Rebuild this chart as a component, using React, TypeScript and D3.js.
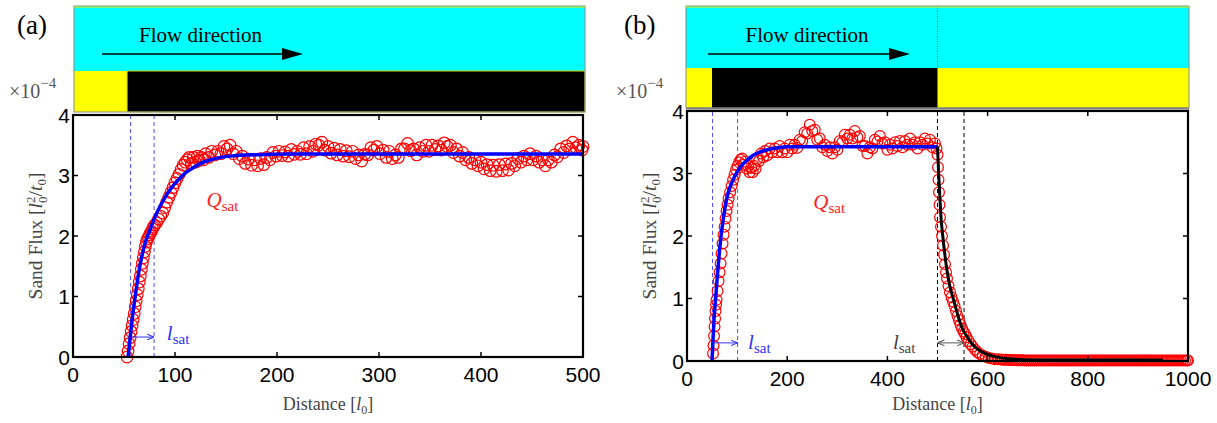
import React from 'react';
import * as d3 from 'd3';

// ---------- data ----------
const X_TICKS_A = [0, 100, 200, 300, 400, 500];
const X_TICKS_B = [0, 200, 400, 600, 800, 1000];
const Y_TICKS = [0, 1, 2, 3, 4];

// panel (a): sand flux (x1e-4) measured, red circles
const A_RED: [number, number][] = [
  [53,0.0],[54,0.1],[55,0.22],[56,0.32],[57,0.42],[58,0.52],[59,0.62],[60,0.72],[61,0.83],[62,0.93],
  [63,1.03],[64,1.13],[65,1.24],[66,1.34],[67,1.45],[68,1.55],[69,1.64],[70,1.74],[71,1.83],[72,1.9],
  [73,1.95],[74,1.98],[75,2.02],[76,2.05],[77,2.08],[78,2.12],[79,2.15],[80,2.18],[82,2.22],[84,2.28],
  [86,2.33],[88,2.38],[90,2.47],[92,2.56],[94,2.64],[96,2.72],[98,2.8],[100,2.88],[102,2.95],[104,3.02],
  [106,3.1],[108,3.17],[110,3.22],[112,3.26],
  [114,3.3],[116,3.2],[118,3.3],[120,3.22],[122,3.32],[124,3.25],[126,3.3],[128,3.26],[130,3.36],[133,3.3],
  [136,3.4],[139,3.34],[142,3.4],[145,3.36],[148,3.48],[151,3.44],[154,3.5],[157,3.36],[160,3.4],[163,3.28],
  [166,3.32],[169,3.2],[172,3.27],[175,3.17],[178,3.26],[181,3.16],[184,3.28],[187,3.18],[190,3.3],[193,3.26],
  [196,3.38],[199,3.32],[202,3.4],[205,3.33],[208,3.39],[211,3.32],[214,3.43],[217,3.35],[220,3.4],[223,3.35],
  [226,3.46],[229,3.36],[232,3.48],[235,3.4],[238,3.52],[241,3.5],[244,3.55],[247,3.42],[250,3.48],[253,3.37],
  [256,3.45],[259,3.34],[262,3.43],[265,3.32],[268,3.41],[271,3.31],[274,3.4],[277,3.28],[280,3.34],[283,3.24],
  [286,3.35],[289,3.34],[292,3.46],[295,3.42],[298,3.48],[301,3.36],[304,3.42],[307,3.3],[310,3.4],[313,3.28],
  [316,3.34],[319,3.3],[322,3.44],[325,3.44],[328,3.53],[331,3.41],[334,3.44],[337,3.34],[340,3.46],[343,3.4],
  [346,3.5],[349,3.4],[352,3.5],[355,3.43],[358,3.49],[361,3.42],[364,3.54],[367,3.48],[370,3.5],[373,3.38],
  [376,3.44],[379,3.32],[382,3.38],[385,3.26],[388,3.3],[391,3.2],[394,3.26],[397,3.16],[400,3.22],[403,3.11],
  [406,3.18],[409,3.08],[412,3.17],[415,3.07],[418,3.18],[421,3.08],[424,3.19],[427,3.09],[430,3.2],[433,3.16],
  [436,3.28],[439,3.22],[442,3.32],[445,3.26],[448,3.36],[451,3.26],[454,3.32],[457,3.22],[460,3.26],[463,3.16],
  [466,3.26],[469,3.22],[472,3.34],[475,3.31],[478,3.44],[481,3.38],[484,3.49],[487,3.44],[490,3.55],[493,3.46],
  [496,3.5],[499,3.42],[500,3.48],
];
// panel (a): fitted saturation curve, blue
const A_FIT: [number, number][] = [
  [54,0],[56,0.32],[58,0.62],[60,0.88],[62,1.12],[65,1.45],[68,1.7],[71,1.9],[75,2.08],[80,2.3],
  [85,2.48],[90,2.63],[95,2.76],[100,2.87],[105,2.96],[110,3.04],[117,3.12],[125,3.2],[135,3.26],[145,3.3],
  [160,3.33],[180,3.345],[210,3.355],[500,3.355],
];
const A_LSAT = [56.5, 79.5];
const A_BED_START = 53;

// panel (b)
const B_RED: [number, number][] = [
  [52,0.12],[53,0.25],[54,0.4],[55,0.55],[56,0.68],[57,0.8],[58,0.9],[59,0.98],[61,1.12],[63,1.28],
  [65,1.42],[67,1.56],[69,1.72],[71,1.88],[73,2.02],[75,2.15],[77,2.28],[79,2.4],[81,2.5],[83,2.6],
  [86,2.7],[89,2.8],[92,2.9],[95,2.98],[98,3.06],[101,3.12],[104,3.18],[107,3.22],
  [110,3.24],[113,3.14],[116,3.19],[119,3.08],[122,3.12],[125,3.02],[128,3.09],[131,3.02],[134,3.12],[137,3.08],
  [140,3.22],[144,3.2],[148,3.32],[152,3.26],[156,3.36],[160,3.29],[165,3.4],[170,3.34],[175,3.4],[180,3.34],
  [185,3.44],[190,3.34],[195,3.4],[200,3.34],[205,3.46],[210,3.4],[215,3.46],[220,3.41],[225,3.54],[230,3.52],
  [235,3.66],[240,3.64],[245,3.78],[250,3.68],[255,3.7],[260,3.54],[265,3.56],[270,3.42],[275,3.46],[280,3.36],
  [285,3.42],[290,3.32],[295,3.42],[300,3.38],[305,3.52],[310,3.5],[315,3.62],[320,3.56],[325,3.62],[330,3.56],
  [335,3.68],[340,3.58],[345,3.6],[350,3.44],[355,3.44],[360,3.32],[365,3.42],[370,3.4],[375,3.54],[380,3.51],
  [385,3.6],[390,3.48],[395,3.5],[400,3.38],[405,3.46],[410,3.4],[415,3.5],[420,3.44],[425,3.52],[430,3.42],
  [435,3.52],[440,3.46],[445,3.56],[450,3.46],[455,3.5],[460,3.4],[465,3.5],[470,3.46],[475,3.56],[480,3.48],
  [485,3.54],[490,3.42],[495,3.48],[498,3.4],
  [500,3.3],[501,3.1],[502,2.9],[503,2.7],[504,2.5],[505,2.3],[507,2.15],[509,2.0],[511,1.85],
  [513,1.7],[515,1.55],[517,1.42],[519,1.32],[522,1.2],[525,1.1],[528,1.02],[531,0.95],[534,0.88],[537,0.8],
  [540,0.72],[543,0.65],[546,0.58],[549,0.52],[552,0.47],[555,0.43],[558,0.38],[562,0.32],[566,0.27],[570,0.23],
  [575,0.18],[580,0.14],[585,0.11],[590,0.09],[596,0.07],[602,0.05],[608,0.04],[614,0.03],[620,0.03],
  [626,0.025],[630,0.022],[634,0.02],[638,0.02],[642,0.018],[646,0.016],[650,0.015],[654,0.014],[658,0.013],[662,0.012],
  [666,0.012],[670,0.011],[674,0.01],[678,0.01],[682,0.01],[686,0.01],[690,0.01],[694,0.01],[698,0.01],[702,0.01],
  [706,0.01],[710,0.01],[714,0.01],[718,0.01],[722,0.01],[726,0.01],[730,0.01],[734,0.01],[738,0.01],[742,0.01],
  [746,0.01],[750,0.01],[754,0.01],[758,0.01],[762,0.01],[766,0.01],[770,0.01],[774,0.01],[778,0.01],[782,0.01],
  [786,0.01],[790,0.01],[794,0.01],[798,0.01],[802,0.01],[806,0.01],[810,0.01],[814,0.01],[818,0.01],[822,0.01],
  [826,0.01],[830,0.01],[834,0.01],[838,0.01],[842,0.01],[846,0.01],[850,0.01],[854,0.01],[858,0.01],[862,0.01],
  [866,0.01],[870,0.01],[874,0.01],[878,0.01],[882,0.01],[886,0.01],[890,0.01],[894,0.01],[898,0.01],[902,0.01],
  [906,0.01],[910,0.01],[914,0.01],[918,0.01],[922,0.01],[926,0.01],[930,0.01],[934,0.01],[938,0.01],[942,0.01],
  [946,0.01],[950,0.01],[954,0.01],[958,0.01],[962,0.01],[966,0.01],[970,0.01],[974,0.01],[978,0.01],[982,0.01],
  [986,0.01],[990,0.01],[994,0.01],[998,0.01],[1000,0.01],
];
const B_FIT_UP: [number, number][] = [
  [50,0],[52,0.36],[54,0.68],[57,0.98],[60,1.3],[64,1.68],[68,2.0],[73,2.3],[78,2.55],[85,2.76],
  [92,2.9],[99,3.01],[108,3.12],[118,3.2],[130,3.28],[145,3.34],[160,3.38],[180,3.41],[200,3.43],[500,3.43],
];
const B_FIT_DOWN: [number, number][] = [
  [500,3.43],[502,3.05],[505,2.58],[507,2.3],[510,2.04],[514,1.75],[518,1.5],[524,1.22],[532,0.98],[540,0.75],
  [548,0.55],[558,0.4],[568,0.28],[580,0.19],[598,0.11],[615,0.07],[638,0.04],[670,0.022],[720,0.015],[950,0.015],
];
const B_LSAT_UP = [51, 101];
const B_LSAT_DOWN = [500, 553];
const B_BED = [50, 500];

const SERIF = '"Liberation Serif", "Times New Roman", serif';
const SANS = '"Liberation Sans", Arial, Helvetica, sans-serif';

type Sc = d3.ScaleLinear<number, number>;
type PanelProps = {
  tag: string;
  xDomain: [number, number];
  xRange: [number, number];
  yRange: [number, number];
  xTicks: number[];
  red: [number, number][];
  redR: number;
  header: { left: number; right: number; top: number; mid: number; bottom: number };
  under: (x: Sc, y: Sc) => React.ReactNode;
  over: (x: Sc, y: Sc) => React.ReactNode;
  headerBand: (x: Sc) => React.ReactNode;
  tagX: number;
  arrow: [number, number];
};

function Panel(p: PanelProps) {
  const x = d3.scaleLinear().domain(p.xDomain).range(p.xRange);
  const y = d3.scaleLinear().domain([0, 4]).range(p.yRange);
  const [x0, x1] = p.xRange;
  const [yb, yt] = p.yRange;
  const h = p.header;
  const tick = 5;
  return (
    <g>
      {/* header */}
      <rect x={h.left} y={h.top} width={h.right - h.left} height={h.mid - h.top} fill="#00ffff" />
      {p.headerBand(x)}
      <rect x={h.left} y={h.top} width={h.right - h.left} height={h.bottom - h.top} fill="none" stroke="#888" strokeWidth={1} />
      <line x1={h.left} x2={h.right} y1={h.top + 1} y2={h.top + 1} stroke="#e8e800" strokeWidth={1} />
      <text x={p.tagX} y={34} fontFamily={SERIF} fontSize={27} fill="#000">{p.tag}</text>
      <text x={(p.arrow[0] + p.arrow[1]) / 2 - 2} y={41.5} textAnchor="middle" fontFamily={SERIF} fontSize={21} fill="#000">Flow direction</text>
      <line x1={p.arrow[0]} x2={p.arrow[1] - 18} y1={54} y2={54} stroke="#000" strokeWidth={1.6} />
      <path d={`M${p.arrow[1]},54 L${p.arrow[1] - 21},48 L${p.arrow[1] - 21},60 Z`} fill="#000" />
      <text x={p.tagX - 8} y={98} fontFamily={SERIF} fontSize={20} fill="#555">
        ×10<tspan dy={-10} fontSize={15}>−4</tspan>
      </text>

      {/* plot contents */}
      <defs>
        <clipPath id={`clip-${p.tag}`}>
          <rect x={x0 - 8} y={yt - 8} width={x1 - x0 + 20} height={yb - yt + 20} />
        </clipPath>
      </defs>
      {p.under(x, y)}
      <g clipPath={`url(#clip-${p.tag})`}>
        {p.red.map((d, i) => (
          <circle key={i} cx={x(d[0])} cy={y(d[1])} r={p.redR} fill="none" stroke="#ff0000" strokeWidth={1.2} />
        ))}
      </g>
      {p.over(x, y)}

      {/* frame and ticks */}
      <rect x={x0} y={yt} width={x1 - x0} height={yb - yt} fill="none" stroke="#000" strokeWidth={2.2} />
      {p.xTicks.map((t) => (
        <g key={`xt${t}`}>
          <line x1={x(t)} x2={x(t)} y1={yb} y2={yb - tick} stroke="#000" strokeWidth={1.5} />
          <line x1={x(t)} x2={x(t)} y1={yt} y2={yt + tick} stroke="#000" strokeWidth={1.5} />
          <text x={x(t)} y={yb + 25} textAnchor="middle" fontFamily={SANS} fontSize={21} fill="#000">{t}</text>
        </g>
      ))}
      {Y_TICKS.map((t) => (
        <g key={`yt${t}`}>
          <line x1={x0} x2={x0 + tick} y1={y(t)} y2={y(t)} stroke="#000" strokeWidth={1.5} />
          <line x1={x1} x2={x1 - tick} y1={y(t)} y2={y(t)} stroke="#000" strokeWidth={1.5} />
          <text x={x0 - 3} y={y(t) + 7.5} textAnchor="end" fontFamily={SANS} fontSize={21} fill="#000">{t}</text>
        </g>
      ))}
      {/* axis labels */}
      <text x={(x0 + x1) / 2} y={410} textAnchor="middle" fontFamily={SERIF} fontSize={18} fill="#444">
        Distance [<tspan fontStyle="italic">l</tspan><tspan dy={4} fontSize={12}>0</tspan><tspan dy={-4}>]</tspan>
      </text>
      <text transform={`translate(${x0 - 31},${(yt + yb) / 2}) rotate(-90)`} textAnchor="middle" fontFamily={SERIF} fontSize={19.5} fill="#444">
        Sand Flux [<tspan fontStyle="italic">l</tspan><tspan dy={-7} fontSize={13}>2</tspan><tspan dx={-6.5} dy={12} fontSize={13}>0</tspan><tspan dy={-5}>/</tspan><tspan fontStyle="italic">t</tspan><tspan dy={4} fontSize={13}>0</tspan><tspan dy={-4}>]</tspan>
      </text>
    </g>
  );
}

function Sub({ x, y, main, sub, color }: { x: number; y: number; main: string; sub: string; color: string }) {
  return (
    <text x={x} y={y} fontFamily={SERIF} fontSize={21} fill={color}>
      <tspan fontStyle="italic">{main}</tspan>
      <tspan dy={4} fontSize={15}>{sub}</tspan>
    </text>
  );
}

const mkLine = (x: Sc, y: Sc) =>
  d3.line<[number, number]>().x((d) => x(d[0])).y((d) => y(d[1])).curve(d3.curveMonotoneX);

export default function App() {
  return (
    <svg width={1217} height={423} style={{ position: 'absolute', left: 0, top: 0, background: '#fff' }}>
      <defs>
        <marker id="arrBlue" viewBox="0 0 10 10" refX={10} refY={5} markerWidth={7} markerHeight={7} orient="auto-start-reverse" markerUnits="userSpaceOnUse">
          <path d="M0,1 L10,5 L0,9" fill="none" stroke="#3030ff" strokeWidth={1.5} />
        </marker>
        <marker id="arrGray" viewBox="0 0 10 10" refX={10} refY={5} markerWidth={7} markerHeight={7} orient="auto-start-reverse" markerUnits="userSpaceOnUse">
          <path d="M0,1 L10,5 L0,9" fill="none" stroke="#555" strokeWidth={1.5} />
        </marker>
      </defs>

      {/* ---------- panel (a) ---------- */}
      <Panel
        tag="(a)"
        tagX={17}
        xDomain={[0, 500]}
        xRange={[73, 583]}
        yRange={[357, 115]}
        xTicks={X_TICKS_A}
        red={A_RED}
        redR={5.8}
        arrow={[102, 303]}
        header={{ left: 74, right: 585, top: 6, mid: 71, bottom: 112 }}
        headerBand={(x) => (
          <g>
            <rect x={74} y={71} width={x(A_BED_START) - 74} height={41} fill="#ffff00" />
            <rect x={x(A_BED_START)} y={71} width={585 - x(A_BED_START)} height={41} fill="#000" stroke="#d8d800" strokeWidth={1} />
          </g>
        )}
        under={(x, y) => (
          <g>
            {A_LSAT.map((v) => (
              <line key={v} x1={x(v)} x2={x(v)} y1={y(0)} y2={y(4)} stroke="#4a4aff" strokeWidth={1} strokeDasharray="4,3" />
            ))}
          </g>
        )}
        over={(x, y) => (
          <g>
            <path d={mkLine(x, y)(A_FIT) || ''} fill="none" stroke="#0000ff" strokeWidth={3.5} />
            <line x1={x(A_LSAT[0])} x2={x(A_LSAT[1])} y1={y(0.33)} y2={y(0.33)} stroke="#3030ff" strokeWidth={1} markerEnd="url(#arrBlue)" />
            <Sub x={x(92)} y={y(0.28)} main="l" sub="sat" color="#3030ff" />
            <Sub x={x(131)} y={y(2.48)} main="Q" sub="sat" color="#ff2020" />
          </g>
        )}
      />

      {/* ---------- panel (b) ---------- */}
      <Panel
        tag="(b)"
        tagX={624}
        xDomain={[0, 1000]}
        xRange={[687, 1188]}
        yRange={[361, 111]}
        xTicks={X_TICKS_B}
        red={B_RED}
        redR={5.4}
        arrow={[708, 910]}
        header={{ left: 686, right: 1189, top: 6, mid: 68, bottom: 108 }}
        headerBand={(x) => (
          <g>
            <rect x={686} y={68} width={1189 - 686} height={40} fill="#ffff00" />
            <rect x={x(B_BED[0])} y={68} width={x(B_BED[1]) - x(B_BED[0])} height={40} fill="#000" />
            <line x1={x(B_BED[1])} x2={x(B_BED[1])} y1={6} y2={68} stroke="#226" strokeWidth={0.8} strokeDasharray="1,1.5" />
            <line x1={686} x2={1189} y1={108.5} y2={108.5} stroke="#777" strokeWidth={2} />
          </g>
        )}
        under={(x, y) => (
          <g>
            {B_LSAT_UP.map((v) => (
              <line key={`u${v}`} x1={x(v)} x2={x(v)} y1={y(0)} y2={y(4)} stroke="#4a4aff" strokeWidth={1} strokeDasharray="4,3" />
            ))}
            {B_LSAT_DOWN.map((v) => (
              <line key={`d${v}`} x1={x(v)} x2={x(v)} y1={y(0)} y2={y(4)} stroke="#000" strokeWidth={1} strokeDasharray="4,3" />
            ))}
          </g>
        )}
        over={(x, y) => (
          <g>
            <path d={mkLine(x, y)(B_FIT_UP) || ''} fill="none" stroke="#0000ff" strokeWidth={3.5} />
            <path d={mkLine(x, y)(B_FIT_DOWN) || ''} fill="none" stroke="#000" strokeWidth={3} />
            <line x1={x(B_LSAT_UP[0])} x2={x(B_LSAT_UP[1])} y1={y(0.29)} y2={y(0.29)} stroke="#3030ff" strokeWidth={1} markerEnd="url(#arrBlue)" />
            <line x1={x(B_LSAT_DOWN[0])} x2={x(B_LSAT_DOWN[1])} y1={y(0.29)} y2={y(0.29)} stroke="#555" strokeWidth={1} markerEnd="url(#arrGray)" markerStart="url(#arrGray)" />
            <Sub x={x(122)} y={y(0.2)} main="l" sub="sat" color="#3030ff" />
            <Sub x={x(411)} y={y(0.2)} main="l" sub="sat" color="#444" />
            <Sub x={x(252)} y={y(2.44)} main="Q" sub="sat" color="#ff2020" />
          </g>
        )}
      />
    </svg>
  );
}
